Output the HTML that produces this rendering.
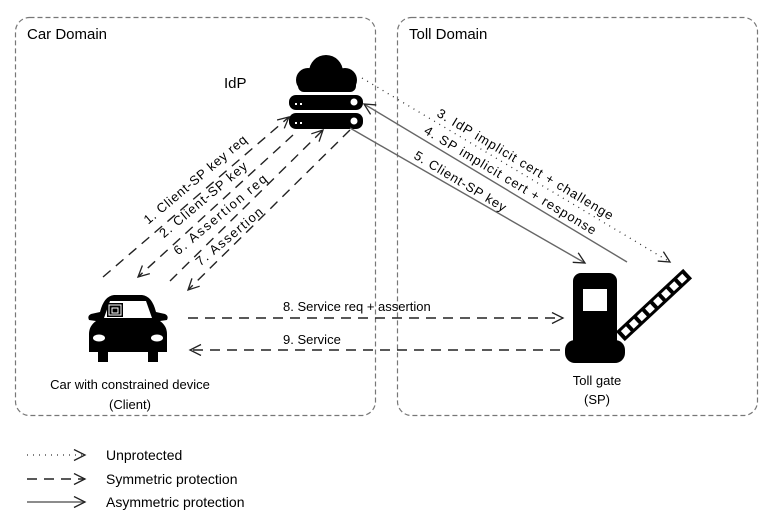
<!DOCTYPE html>
<html><head><meta charset="utf-8"><style>
html,body{margin:0;padding:0;background:#fff;}
svg{display:block;font-family:"Liberation Sans",sans-serif;}
text{fill:#000;}
</style></head><body>
<svg width="773" height="519" viewBox="0 0 773 519" xmlns="http://www.w3.org/2000/svg">
<defs>
<marker id="ah" markerWidth="14" markerHeight="14" refX="12" refY="6" orient="auto" markerUnits="userSpaceOnUse">
<path d="M1,0.5 L12,6 L1,11.5" fill="none" stroke="#222" stroke-width="1.3"/>
</marker>
</defs>
<rect x="15.5" y="17.5" width="360" height="398" rx="14" fill="none" stroke="#777" stroke-width="1.2" stroke-dasharray="5,3"/>
<rect x="397.5" y="17.5" width="360" height="398" rx="14" fill="none" stroke="#777" stroke-width="1.2" stroke-dasharray="5,3"/>
<text x="27" y="39" font-size="15">Car Domain</text>
<text x="409" y="39" font-size="15">Toll Domain</text>
<text x="224" y="88" font-size="15">IdP</text>

<g fill="#000">
<circle cx="326" cy="72" r="17"/>
<circle cx="308" cy="80" r="12"/>
<circle cx="345" cy="80" r="12"/>
<rect x="298" y="78" width="58" height="14" rx="6"/>
<rect x="289" y="95" width="74" height="15" rx="7"/>
<rect x="289" y="113" width="74" height="16" rx="7"/>
</g>
<g fill="#fff">
<circle cx="354" cy="102" r="3.5"/><circle cx="354" cy="121" r="3.5"/>
<rect x="295" y="103" width="2" height="2"/><rect x="300" y="103" width="2" height="2"/>
<rect x="295" y="122" width="2" height="2"/><rect x="300" y="122" width="2" height="2"/>
</g>

<g stroke="#222" stroke-width="1.4" stroke-dasharray="10,7" fill="none">
<line x1="103" y1="277" x2="289" y2="117" marker-end="url(#ah)"/>
<line x1="293" y1="135" x2="138" y2="277" marker-end="url(#ah)"/>
<line x1="170" y1="281" x2="323" y2="130" marker-end="url(#ah)"/>
<line x1="350" y1="130" x2="188" y2="290" marker-end="url(#ah)"/>
</g>
<g font-size="13">
<text transform="translate(198,183) rotate(-40)" text-anchor="middle" textLength="130">1. Client-SP key req</text>
<text transform="translate(206,203) rotate(-40)" text-anchor="middle" textLength="110">2. Client-SP key</text>
<text transform="translate(223,218) rotate(-40)" text-anchor="middle" textLength="117">6. Assertion req</text>
<text transform="translate(232,240) rotate(-40)" text-anchor="middle" textLength="83">7. Assertion</text>
</g>

<line x1="362" y1="78" x2="670" y2="262" stroke="#333" stroke-width="1.3" stroke-dasharray="1,5" marker-end="url(#ah)"/>
<line x1="627" y1="262" x2="364" y2="104" stroke="#666" stroke-width="1.4" marker-end="url(#ah)"/>
<line x1="350" y1="128" x2="585" y2="263" stroke="#666" stroke-width="1.4" marker-end="url(#ah)"/>
<g font-size="13">
<text transform="translate(523,168) rotate(31)" text-anchor="middle" textLength="203">3. IdP implicit cert + challenge</text>
<text transform="translate(508,184) rotate(31)" text-anchor="middle" textLength="198">4. SP implicit cert + response</text>
<text transform="translate(458,185) rotate(31)" text-anchor="middle" textLength="105">5. Client-SP key</text>
</g>

<g stroke="#222" stroke-width="1.4" stroke-dasharray="10,7" fill="none">
<line x1="188" y1="318" x2="563" y2="318" marker-end="url(#ah)"/>
<line x1="560" y1="350" x2="190" y2="350" marker-end="url(#ah)"/>
</g>
<text x="283" y="311" font-size="13">8. Service req + assertion</text>
<text x="283" y="344" font-size="13">9. Service</text>

<g>
<path d="M100,312 Q104,296 114,295 L142,295 Q152,296 156,312 L165,314 Q169,316 167,320 L160,321 Q167,326 167,334 L167,352 L158,352 L158,362 L148,362 L148,352 L108,352 L108,362 L98,362 L98,352 L89,352 L89,334 Q89,326 96,321 L89,320 Q87,316 91,314 Z" fill="#000"/>
<path d="M104,318 L110,301 L146,301 L152,318 Z" fill="#fff"/>
<rect x="107" y="303" width="16" height="14" fill="#000"/>
<rect x="109" y="305" width="12" height="10" fill="none" stroke="#fff" stroke-width="1"/>
<rect x="112" y="308" width="6" height="5" fill="none" stroke="#fff" stroke-width="1"/>
<ellipse cx="99" cy="338" rx="6" ry="3.5" fill="#fff"/>
<ellipse cx="157" cy="338" rx="6" ry="3.5" fill="#fff"/>
</g>
<text x="130" y="389" font-size="13" text-anchor="middle">Car with constrained device</text>
<text x="130" y="409" font-size="13" text-anchor="middle">(Client)</text>

<g>
<rect x="573" y="273" width="44" height="80" rx="8" fill="#000"/>
<rect x="565" y="340" width="60" height="23" rx="10" fill="#000"/>
<rect x="583" y="289" width="24" height="22" fill="#fff"/>
<g transform="translate(620,336) rotate(-43)">
<rect x="0" y="-6" width="92" height="13" fill="#000"/>
<rect x="4" y="-3" width="7" height="7" fill="#fff"/>
<rect x="15" y="-3" width="7" height="7" fill="#fff"/>
<rect x="26" y="-3" width="7" height="7" fill="#fff"/>
<rect x="37" y="-3" width="7" height="7" fill="#fff"/>
<rect x="48" y="-3" width="7" height="7" fill="#fff"/>
<rect x="59" y="-3" width="7" height="7" fill="#fff"/>
<rect x="70" y="-3" width="7" height="7" fill="#fff"/>
<rect x="81" y="-3" width="7" height="7" fill="#fff"/>
</g>
</g>
<text x="597" y="385" font-size="13" text-anchor="middle">Toll gate</text>
<text x="597" y="404" font-size="13" text-anchor="middle">(SP)</text>

<line x1="27" y1="455" x2="85" y2="455" stroke="#333" stroke-width="1.2" stroke-dasharray="1,5" marker-end="url(#ah)"/>
<line x1="27" y1="479" x2="85" y2="479" stroke="#222" stroke-width="1.4" stroke-dasharray="10,7" marker-end="url(#ah)"/>
<line x1="27" y1="502" x2="85" y2="502" stroke="#666" stroke-width="1.4" marker-end="url(#ah)"/>
<text x="106" y="460" font-size="14">Unprotected</text>
<text x="106" y="484" font-size="14">Symmetric protection</text>
<text x="106" y="507" font-size="14">Asymmetric protection</text>
</svg>
</body></html>
